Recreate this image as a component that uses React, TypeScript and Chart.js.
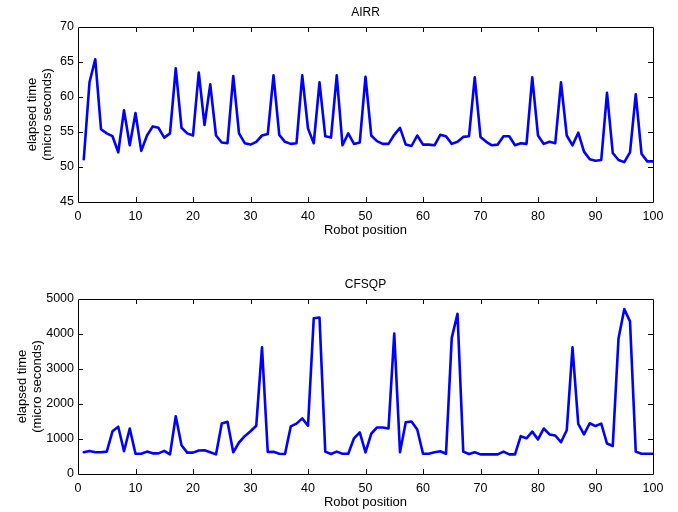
import React, { useEffect, useRef } from "react";
import { Chart, registerables } from "chart.js";

Chart.register(...registerables);

const positions: number[] = Array.from({ length: 100 }, (_, i) => i + 1);

const airrTimes: number[] = [
  51.1, 62.1, 65.4, 55.4, 54.8, 54.4, 52.1, 58.1, 53.1, 57.7,
  52.3, 54.5, 55.8, 55.6, 54.2, 54.8, 64.1, 55.6, 54.8, 54.5,
  63.5, 56.0, 61.8, 54.5, 53.5, 53.4, 63.0, 54.8, 53.4, 53.2,
  53.6, 54.5, 54.7, 63.1, 54.6, 53.6, 53.3, 53.4, 63.1, 55.5,
  53.4, 62.1, 54.4, 54.2, 63.1, 53.1, 54.8, 53.3, 53.5, 62.9,
  54.5, 53.7, 53.3, 53.3, 54.6, 55.6, 53.2, 53.0, 54.5, 53.2,
  53.2, 53.1, 54.6, 54.4, 53.3, 53.6, 54.3, 54.4, 62.8, 54.3,
  53.6, 53.1, 53.2, 54.4, 54.4, 53.1, 53.4, 53.3, 62.8, 54.5,
  53.3, 53.6, 53.4, 62.1, 54.5, 53.1, 54.9, 52.2, 51.1, 50.9,
  51.0, 60.6, 52.0, 51.0, 50.7, 52.1, 60.4, 51.9, 50.8, 50.8,
];

const cfsqpTimes: number[] = [
  620, 660, 620, 620, 640, 1220, 1350, 650, 1300, 580,
  580, 640, 590, 590, 660, 560, 1650, 820, 610, 610,
  670, 680, 620, 560, 1440, 1490, 620, 900, 1080, 1220,
  1380, 3620, 630, 635, 580, 570, 1360, 1440, 1590, 1380,
  4450, 4470, 640, 570, 640, 580, 580, 1020, 1190, 620,
  1150, 1330, 1330, 1300, 4010, 620, 1480, 1500, 1270, 580,
  580, 620, 650, 580, 3890, 4580, 640, 570, 620, 560,
  560, 560, 560, 640, 560, 560, 1080, 1020, 1210, 990,
  1300, 1130, 1100, 910, 1250, 3620, 1430, 1130, 1450, 1370,
  1440, 870, 800, 3870, 4710, 4360, 640, 580, 580, 580,
];

const xTicks: number[] = [0, 10, 20, 30, 40, 50, 60, 70, 80, 90, 100];
const airrYTicks: number[] = [45, 50, 55, 60, 65, 70];
const cfsqpYTicks: number[] = [0, 1000, 2000, 3000, 4000, 5000];

const FONT = "'Liberation Sans', Arial, Helvetica, sans-serif";

const boxTicksPlugin = {
  id: "boxTicks",
  afterDraw(chart: any) {
    const { ctx, chartArea } = chart;
    const { left, right, top, bottom } = chartArea;
    const xs = chart.scales.x;
    const ys = chart.scales.y;
    const len = 5;
    ctx.save();
    ctx.strokeStyle = "#000";
    ctx.lineWidth = 1;
    ctx.beginPath();
    ctx.rect(Math.round(left) + 0.5, Math.round(top) + 0.5, Math.round(right - left), Math.round(bottom - top));
    ctx.stroke();
    ctx.beginPath();
    xs.ticks.forEach((t: any) => {
      const px = Math.round(xs.getPixelForValue(t.value)) + 0.5;
      if (px <= left + 1 || px >= right - 1) return;
      ctx.moveTo(px, bottom);
      ctx.lineTo(px, bottom - len);
      ctx.moveTo(px, top);
      ctx.lineTo(px, top + len);
    });
    ys.ticks.forEach((t: any) => {
      const py = Math.round(ys.getPixelForValue(t.value)) + 0.5;
      if (py <= top + 1 || py >= bottom - 1) return;
      ctx.moveTo(left, py);
      ctx.lineTo(left + len, py);
      ctx.moveTo(right, py);
      ctx.lineTo(right - len, py);
    });
    ctx.stroke();
    ctx.restore();
  },
};

function makeConfig(title: string, values: number[], yTicks: number[], yTitlePad: number) {
  return {
    type: "line" as const,
    data: {
      datasets: [
        {
          data: positions.map((p, i) => ({ x: p, y: values[i] })),
          borderColor: "#0000ff",
          borderWidth: 2.6,
          borderJoinStyle: "round" as const,
          borderCapStyle: "round" as const,
          pointRadius: 0,
          tension: 0,
          fill: false,
        },
      ],
    },
    options: {
      responsive: false,
      animation: false as const,
      layout: { padding: { left: 0, right: 25, top: 0, bottom: 0 } },
      plugins: {
        legend: { display: false },
        tooltip: { enabled: false },
        title: {
          display: true,
          text: title,
          fullSize: false,
          color: "#000",
          font: { family: FONT, size: 12, weight: "normal" as const, lineHeight: 1.2 },
          padding: { top: 5, bottom: 7.6 },
        },
      },
      scales: {
        x: {
          type: "linear" as const,
          min: 0,
          max: 100,
          afterBuildTicks: (scale: any) => {
            scale.ticks = xTicks.map((v) => ({ value: v }));
          },
          afterFit: (scale: any) => {
            scale.height = 38;
          },
          grid: { display: false, drawTicks: false },
          border: { display: false },
          ticks: {
            color: "#000",
            padding: 7,
            maxRotation: 0,
            autoSkip: false,
            font: { family: FONT, size: 12.5 },
            callback: (v: any) => String(v),
          },
          title: {
            display: true,
            text: "Robot position",
            color: "#000",
            font: { family: FONT, size: 13, lineHeight: 1.15 },
            padding: { top: 0, bottom: 2.5 },
          },
        },
        y: {
          type: "linear" as const,
          min: yTicks[0],
          max: yTicks[yTicks.length - 1],
          afterBuildTicks: (scale: any) => {
            scale.ticks = yTicks.map((v) => ({ value: v }));
          },
          afterFit: (scale: any) => {
            scale.width = 78;
          },
          grid: { display: false, drawTicks: false },
          border: { display: false },
          ticks: {
            color: "#000",
            padding: 4,
            autoSkip: false,
            font: { family: FONT, size: 12.5 },
            callback: (v: any) => String(v),
          },
          title: {
            display: true,
            text: ["elapsed time", "(micro seconds)"],
            color: "#000",
            font: { family: FONT, size: 13, lineHeight: 1.15 },
            padding: { top: yTitlePad, bottom: 0 },
          },
        },
      },
    },
    plugins: [boxTicksPlugin],
  };
}

function PlotCanvas(props: { title: string; values: number[]; yTicks: number[]; yTitlePad: number; top: number }) {
  const ref = useRef<HTMLCanvasElement | null>(null);
  useEffect(() => {
    if (!ref.current) return;
    const chart = new Chart(ref.current, makeConfig(props.title, props.values, props.yTicks, props.yTitlePad) as any);
    return () => chart.destroy();
  }, []);
  return (
    <canvas
      ref={ref}
      width={678}
      height={240}
      style={{ position: "absolute", left: 0, top: props.top, width: 678, height: 240 }}
    />
  );
}

export default function App() {
  return (
    <div style={{ position: "fixed", left: 0, top: 0, width: 678, height: 512, background: "#fff" }}>
      <PlotCanvas title="AIRR" values={airrTimes} yTicks={airrYTicks} yTitlePad={24.5} top={0} />
      <PlotCanvas title="CFSQP" values={cfsqpTimes} yTicks={cfsqpYTicks} yTitlePad={15} top={272} />
    </div>
  );
}
